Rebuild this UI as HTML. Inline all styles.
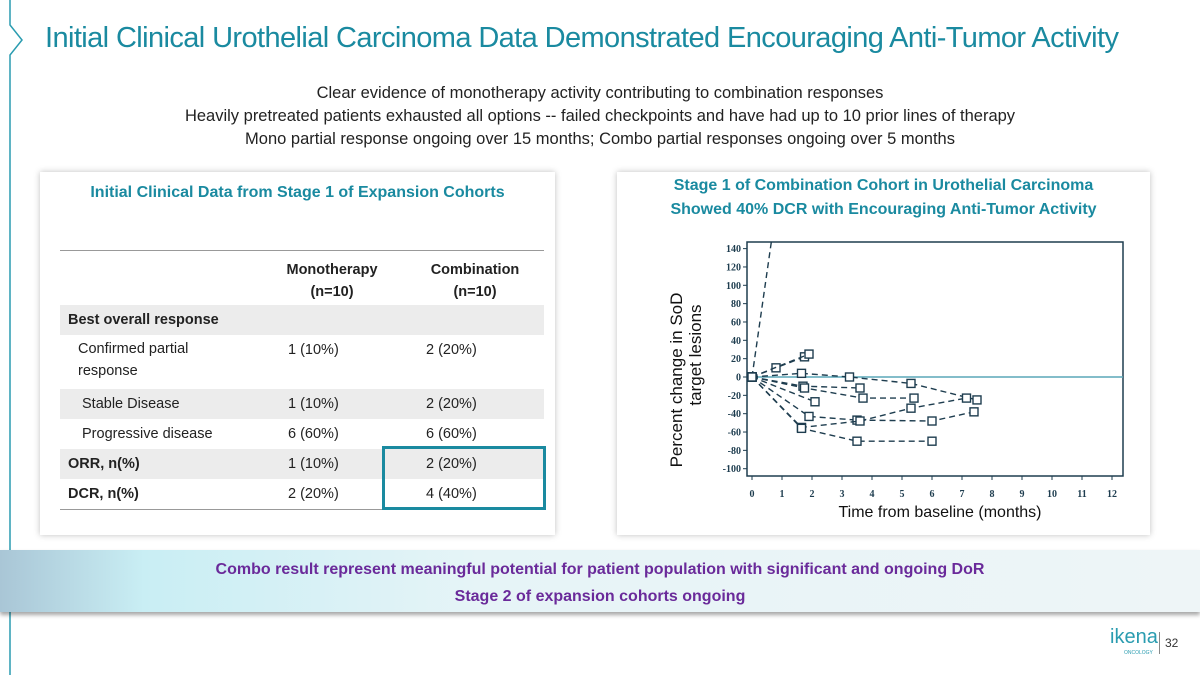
<!DOCTYPE html>
<html><head><meta charset="utf-8">
<style>
body{margin:0;width:1200px;height:675px;background:#fff;font-family:"Liberation Sans",sans-serif;position:relative;overflow:hidden}
.a{position:absolute}
.title{left:45px;top:22px;font-size:29px;color:#1a8aa0;letter-spacing:-0.6px;white-space:nowrap}
.sub{left:0;width:1200px;text-align:center;font-size:16.5px;color:#222}
.card{background:#fff;box-shadow:0 0 6px rgba(0,0,0,.25)}
.tbl{font-size:14.5px;color:#222}
.row{position:absolute;left:60px;width:484px;height:30px}
.c{position:absolute;top:7px}
</style></head><body>
<svg class="a" style="left:0;top:0" width="30" height="675">
<path d="M10,0 V25 L22,40 L10,55 V675" stroke="#2a9cb0" stroke-width="1.5" fill="none"/></svg>
<div class="a title">Initial Clinical Urothelial Carcinoma Data Demonstrated Encouraging Anti-Tumor Activity</div>
<div class="a sub" style="top:84px">Clear evidence of monotherapy activity contributing to combination responses</div>
<div class="a sub" style="top:107px">Heavily pretreated patients exhausted all options -- failed checkpoints and have had up to 10 prior lines of therapy</div>
<div class="a sub" style="top:130px">Mono partial response ongoing over 15 months; Combo partial responses ongoing over 5 months</div>

<div class="a card" style="left:40px;top:172px;width:515px;height:363px"></div>
<div class="a" style="left:40px;top:184px;width:515px;text-align:center;font-size:16px;font-weight:bold;color:#1a8aa0">Initial Clinical Data from Stage 1 of Expansion Cohorts</div>
<div class="a tbl" style="left:0;top:0">
<div class="a" style="left:60px;top:250px;width:484px;border-top:1px solid #999"></div>
<div class="a" style="left:262px;top:259px;width:140px;text-align:center;font-weight:bold;line-height:22px">Monotherapy<br>(n=10)</div>
<div class="a" style="left:405px;top:259px;width:140px;text-align:center;font-weight:bold;line-height:22px">Combination<br>(n=10)</div>
<div class="row" style="top:305px;background:#ececec"><span class="c" style="left:8px;font-weight:bold">Best overall response</span></div>
<div class="row" style="top:335px;height:54px"><span class="c" style="left:18px;line-height:22px;top:3px">Confirmed partial<br>response</span><span class="c" style="left:228px">1 (10%)</span><span class="c" style="left:366px">2 (20%)</span></div>
<div class="row" style="top:389px;background:#ececec"><span class="c" style="left:22px">Stable Disease</span><span class="c" style="left:228px">1 (10%)</span><span class="c" style="left:366px">2 (20%)</span></div>
<div class="row" style="top:419px"><span class="c" style="left:22px">Progressive disease</span><span class="c" style="left:228px">6 (60%)</span><span class="c" style="left:366px">6 (60%)</span></div>
<div class="row" style="top:449px;background:#ececec"><span class="c" style="left:8px;font-weight:bold">ORR, n(%)</span><span class="c" style="left:228px">1 (10%)</span><span class="c" style="left:366px">2 (20%)</span></div>
<div class="row" style="top:479px;border-bottom:1px solid #999"><span class="c" style="left:8px;font-weight:bold">DCR, n(%)</span><span class="c" style="left:228px">2 (20%)</span><span class="c" style="left:366px">4 (40%)</span></div>
<div class="a" style="left:382px;top:446px;width:158px;height:58px;border:3px solid #1a8aa0"></div>
</div>

<div class="a card" style="left:617px;top:172px;width:533px;height:363px"></div>
<div class="a" style="left:617px;top:174px;width:533px;text-align:center;font-size:16px;font-weight:bold;color:#1a8aa0;line-height:24px">Stage 1 of Combination Cohort in Urothelial Carcinoma<br>Showed 40% DCR with Encouraging Anti-Tumor Activity</div>
<svg class="a" style="left:0;top:0" width="1200" height="540" id="chart"></svg>

<div class="a" style="left:0;top:550px;width:1200px;height:62px;background:linear-gradient(90deg,#a9c6d6 0%,#c9eef4 12%,#e6f4f7 40%,#eef5f7 100%);box-shadow:0 3px 4px rgba(0,0,0,.35)"></div>
<div class="a" style="left:0;top:561px;width:1200px;text-align:center;font-size:16px;font-weight:bold;color:#6a2a9a">Combo result represent meaningful potential for patient population with significant and ongoing DoR</div>
<div class="a" style="left:0;top:588px;width:1200px;text-align:center;font-size:16px;font-weight:bold;color:#6a2a9a">Stage 2 of expansion cohorts ongoing</div>
<div class="a" style="left:1110px;top:626px;font-size:20px;color:#2a9cb0">ikena</div>
<div class="a" style="left:1124px;top:650px;font-size:5px;color:#2a9cb0">ONCOLOGY</div>
<div class="a" style="left:1159px;top:632px;height:22px;border-left:1px solid #888;padding-left:5px;font-size:12px;color:#333;line-height:22px">32</div>

<script>
const xTicks=[0,1,2,3,4,5,6,7,8,9,10,11,12];
const yTicks=[140,120,100,80,60,40,20,0,-20,-40,-60,-80,-100];
const patientTimes=[[0,0.7],[0,0.8,1.75],[0,1.9],[0,1.65,3.25,5.3,7.5],[0,1.7,3.6],[0,1.75,3.7,5.4],[0,2.1],[0,1.9,3.5,6.0,7.4],[0,1.65,3.6,5.3,7.15],[0,1.65,3.5,6.0]];
const patientValues=[[0,160],[0,10,22],[0,25],[0,4,0,-7,-25],[0,-10,-12],[0,-12,-23,-23],[0,-27],[0,-43,-47,-48,-38],[0,-55,-48,-34,-23],[0,-56,-70,-70]];
const svg=document.getElementById('chart');const NS='http://www.w3.org/2000/svg';
const X=v=>752+v*30, Y=v=>377-v*0.917;
const L=747,R=1123,T=242,B=476;
function mk(t,a){const e=document.createElementNS(NS,t);for(const k in a)e.setAttribute(k,a[k]);svg.appendChild(e);return e;}
let f=mk('rect',{x:L,y:T,width:R-L,height:B-T,fill:'none',stroke:'#1e3d4f','stroke-width':1.5});


const defs=mk('defs',{});const cp=document.createElementNS(NS,'clipPath');cp.setAttribute('id','cp');const cr=document.createElementNS(NS,'rect');cr.setAttribute('x',L);cr.setAttribute('y',T);cr.setAttribute('width',R-L);cr.setAttribute('height',B-T);cp.appendChild(cr);defs.appendChild(cp);
yTicks.forEach(v=>{mk('line',{x1:L-4,x2:L,y1:Y(v),y2:Y(v),stroke:'#1e3d4f'});
 const t=mk('text',{x:L-6,y:Y(v)+3.5,'text-anchor':'end','font-size':10,'font-family':'Liberation Serif','font-weight':'bold',fill:'#1e3d4f'});t.textContent=v;
 
 });
xTicks.forEach(v=>{mk('line',{x1:X(v),x2:X(v),y1:B,y2:B+4,stroke:'#1e3d4f'});
 const t=mk('text',{x:X(v),y:B+21,'text-anchor':'middle','font-size':10,'font-family':'Liberation Serif','font-weight':'bold',fill:'#1e3d4f'});t.textContent=v;
 
 });
mk('line',{x1:L,x2:R,y1:Y(0),y2:Y(0),stroke:'#5aa7b8','stroke-width':1.5});
patientTimes.forEach((ts,i)=>{const vs=patientValues[i];
 const p=mk('polyline',{points:ts.map((t,j)=>X(t)+','+Y(vs[j])).join(' '),fill:'none',stroke:'#1e3d4f','stroke-width':1.4,'stroke-dasharray':'6,4','clip-path':'url(#cp)'});
 
 
 ts.forEach((t,j)=>{if(Y(vs[j])<T)return;const r=mk('rect',{x:X(t)-4,y:Y(vs[j])-4,width:8,height:8,fill:'#fff',stroke:'#1e3d4f','stroke-width':1.4});
  
  });
});
const xl=mk('text',{x:940,y:517,'text-anchor':'middle','font-size':16,fill:'#111'});xl.textContent='Time from baseline (months)';


const yl=mk('text',{transform:'translate(682,380) rotate(-90)','text-anchor':'middle','font-size':17,fill:'#111'});yl.textContent='Percent change in SoD';


const yl2=mk('text',{transform:'translate(701,355) rotate(-90)','text-anchor':'middle','font-size':17,fill:'#111'});yl2.textContent='target lesions';


</script>
</body></html>
